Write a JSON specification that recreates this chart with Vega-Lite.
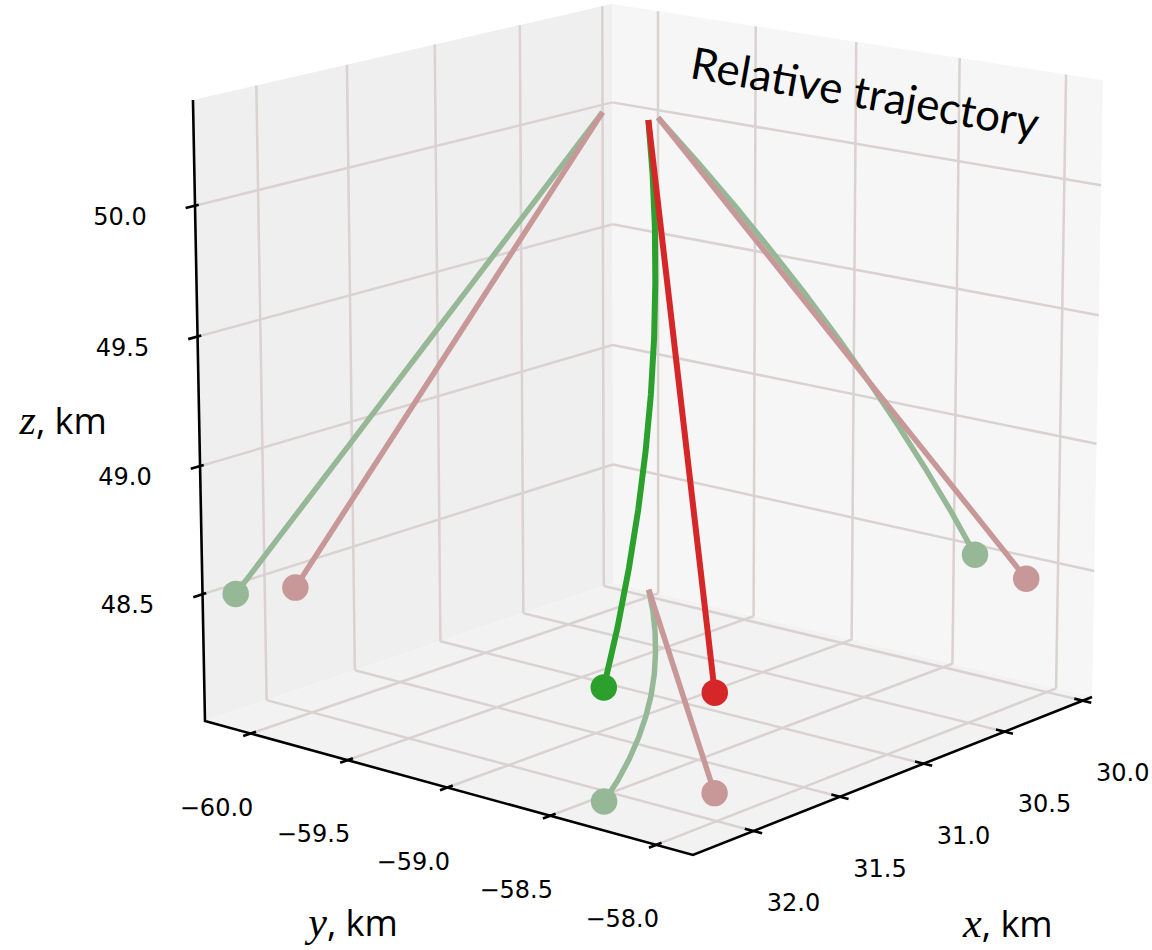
{
  "$schema": "https://vega.github.io/schema/vega-lite/v6.json",
  "width": 1152,
  "height": 950,
  "padding": 0,
  "autosize": {"type": "none"},
  "background": "white",
  "config": {"view": {"stroke": null}},
  "title": {"text": "Relative trajectory", "font": "Lato", "fontSize": 44, "fontWeight": "normal", "color": "#000000", "anchor": "start", "frame": "group", "orient": "top", "offset": 0, "dx": 710, "dy": 60, "angle": 10, "baseline": "alphabetic"},
  "data": {"values": [
    {"g":"pane","p":"L","k":0,"x":29.94,"y":-60.24,"z":48},
    {"g":"pane","p":"L","k":1,"x":32.34,"y":-60.24,"z":48},
    {"g":"pane","p":"L","k":2,"x":32.34,"y":-60.24,"z":50.4},
    {"g":"pane","p":"L","k":3,"x":29.94,"y":-60.24,"z":50.4},
    {"g":"pane","p":"R","k":0,"x":29.94,"y":-60.24,"z":48},
    {"g":"pane","p":"R","k":1,"x":29.94,"y":-57.83,"z":48},
    {"g":"pane","p":"R","k":2,"x":29.94,"y":-57.83,"z":50.4},
    {"g":"pane","p":"R","k":3,"x":29.94,"y":-60.24,"z":50.4},
    {"g":"pane","p":"F","k":0,"x":29.94,"y":-60.24,"z":48},
    {"g":"pane","p":"F","k":1,"x":32.34,"y":-60.24,"z":48},
    {"g":"pane","p":"F","k":2,"x":32.34,"y":-57.83,"z":48},
    {"g":"pane","p":"F","k":3,"x":29.94,"y":-57.83,"z":48},

    {"g":"grid","id":"Lx1","k":0,"x":30,"y":-60.24,"z":48},{"g":"grid","id":"Lx1","k":1,"x":30,"y":-60.24,"z":50.4},
    {"g":"grid","id":"Lx2","k":0,"x":30.5,"y":-60.24,"z":48},{"g":"grid","id":"Lx2","k":1,"x":30.5,"y":-60.24,"z":50.4},
    {"g":"grid","id":"Lx3","k":0,"x":31,"y":-60.24,"z":48},{"g":"grid","id":"Lx3","k":1,"x":31,"y":-60.24,"z":50.4},
    {"g":"grid","id":"Lx4","k":0,"x":31.5,"y":-60.24,"z":48},{"g":"grid","id":"Lx4","k":1,"x":31.5,"y":-60.24,"z":50.4},
    {"g":"grid","id":"Lx5","k":0,"x":32,"y":-60.24,"z":48},{"g":"grid","id":"Lx5","k":1,"x":32,"y":-60.24,"z":50.4},
    {"g":"grid","id":"Lz1","k":0,"x":29.94,"y":-60.24,"z":48.5},{"g":"grid","id":"Lz1","k":1,"x":32.34,"y":-60.24,"z":48.5},
    {"g":"grid","id":"Lz2","k":0,"x":29.94,"y":-60.24,"z":49},{"g":"grid","id":"Lz2","k":1,"x":32.34,"y":-60.24,"z":49},
    {"g":"grid","id":"Lz3","k":0,"x":29.94,"y":-60.24,"z":49.5},{"g":"grid","id":"Lz3","k":1,"x":32.34,"y":-60.24,"z":49.5},
    {"g":"grid","id":"Lz4","k":0,"x":29.94,"y":-60.24,"z":50},{"g":"grid","id":"Lz4","k":1,"x":32.34,"y":-60.24,"z":50},
    {"g":"grid","id":"Ry1","k":0,"x":29.94,"y":-60,"z":48},{"g":"grid","id":"Ry1","k":1,"x":29.94,"y":-60,"z":50.4},
    {"g":"grid","id":"Ry2","k":0,"x":29.94,"y":-59.5,"z":48},{"g":"grid","id":"Ry2","k":1,"x":29.94,"y":-59.5,"z":50.4},
    {"g":"grid","id":"Ry3","k":0,"x":29.94,"y":-59,"z":48},{"g":"grid","id":"Ry3","k":1,"x":29.94,"y":-59,"z":50.4},
    {"g":"grid","id":"Ry4","k":0,"x":29.94,"y":-58.5,"z":48},{"g":"grid","id":"Ry4","k":1,"x":29.94,"y":-58.5,"z":50.4},
    {"g":"grid","id":"Ry5","k":0,"x":29.94,"y":-58,"z":48},{"g":"grid","id":"Ry5","k":1,"x":29.94,"y":-58,"z":50.4},
    {"g":"grid","id":"Rz1","k":0,"x":29.94,"y":-60.24,"z":48.5},{"g":"grid","id":"Rz1","k":1,"x":29.94,"y":-57.83,"z":48.5},
    {"g":"grid","id":"Rz2","k":0,"x":29.94,"y":-60.24,"z":49},{"g":"grid","id":"Rz2","k":1,"x":29.94,"y":-57.83,"z":49},
    {"g":"grid","id":"Rz3","k":0,"x":29.94,"y":-60.24,"z":49.5},{"g":"grid","id":"Rz3","k":1,"x":29.94,"y":-57.83,"z":49.5},
    {"g":"grid","id":"Rz4","k":0,"x":29.94,"y":-60.24,"z":50},{"g":"grid","id":"Rz4","k":1,"x":29.94,"y":-57.83,"z":50},
    {"g":"grid","id":"Fx1","k":0,"x":30,"y":-60.24,"z":48},{"g":"grid","id":"Fx1","k":1,"x":30,"y":-57.83,"z":48},
    {"g":"grid","id":"Fx2","k":0,"x":30.5,"y":-60.24,"z":48},{"g":"grid","id":"Fx2","k":1,"x":30.5,"y":-57.83,"z":48},
    {"g":"grid","id":"Fx3","k":0,"x":31,"y":-60.24,"z":48},{"g":"grid","id":"Fx3","k":1,"x":31,"y":-57.83,"z":48},
    {"g":"grid","id":"Fx4","k":0,"x":31.5,"y":-60.24,"z":48},{"g":"grid","id":"Fx4","k":1,"x":31.5,"y":-57.83,"z":48},
    {"g":"grid","id":"Fx5","k":0,"x":32,"y":-60.24,"z":48},{"g":"grid","id":"Fx5","k":1,"x":32,"y":-57.83,"z":48},
    {"g":"grid","id":"Fy1","k":0,"x":29.94,"y":-60,"z":48},{"g":"grid","id":"Fy1","k":1,"x":32.34,"y":-60,"z":48},
    {"g":"grid","id":"Fy2","k":0,"x":29.94,"y":-59.5,"z":48},{"g":"grid","id":"Fy2","k":1,"x":32.34,"y":-59.5,"z":48},
    {"g":"grid","id":"Fy3","k":0,"x":29.94,"y":-59,"z":48},{"g":"grid","id":"Fy3","k":1,"x":32.34,"y":-59,"z":48},
    {"g":"grid","id":"Fy4","k":0,"x":29.94,"y":-58.5,"z":48},{"g":"grid","id":"Fy4","k":1,"x":32.34,"y":-58.5,"z":48},
    {"g":"grid","id":"Fy5","k":0,"x":29.94,"y":-58,"z":48},{"g":"grid","id":"Fy5","k":1,"x":32.34,"y":-58,"z":48},

    {"g":"axis","k":0,"x":32.34,"y":-60.24,"z":50.4},
    {"g":"axis","k":1,"x":32.34,"y":-60.24,"z":48},
    {"g":"axis","k":2,"x":32.34,"y":-57.83,"z":48},
    {"g":"axis","k":3,"x":29.94,"y":-57.83,"z":48},

    {"g":"tick","id":"tz1","k":0,"x":32.39,"y":-60.24,"z":48.5},{"g":"tick","id":"tz1","k":1,"x":32.32,"y":-60.24,"z":48.5},
    {"g":"tick","id":"tz2","k":0,"x":32.39,"y":-60.24,"z":49},{"g":"tick","id":"tz2","k":1,"x":32.32,"y":-60.24,"z":49},
    {"g":"tick","id":"tz3","k":0,"x":32.39,"y":-60.24,"z":49.5},{"g":"tick","id":"tz3","k":1,"x":32.32,"y":-60.24,"z":49.5},
    {"g":"tick","id":"tz4","k":0,"x":32.39,"y":-60.24,"z":50},{"g":"tick","id":"tz4","k":1,"x":32.32,"y":-60.24,"z":50},
    {"g":"tick","id":"ty1","k":0,"x":32.38,"y":-60,"z":48},{"g":"tick","id":"ty1","k":1,"x":32.31,"y":-60,"z":48},
    {"g":"tick","id":"ty2","k":0,"x":32.38,"y":-59.5,"z":48},{"g":"tick","id":"ty2","k":1,"x":32.31,"y":-59.5,"z":48},
    {"g":"tick","id":"ty3","k":0,"x":32.38,"y":-59,"z":48},{"g":"tick","id":"ty3","k":1,"x":32.31,"y":-59,"z":48},
    {"g":"tick","id":"ty4","k":0,"x":32.38,"y":-58.5,"z":48},{"g":"tick","id":"ty4","k":1,"x":32.31,"y":-58.5,"z":48},
    {"g":"tick","id":"ty5","k":0,"x":32.38,"y":-58,"z":48},{"g":"tick","id":"ty5","k":1,"x":32.31,"y":-58,"z":48},
    {"g":"tick","id":"tx1","k":0,"x":30,"y":-57.79,"z":48},{"g":"tick","id":"tx1","k":1,"x":30,"y":-57.87,"z":48},
    {"g":"tick","id":"tx2","k":0,"x":30.5,"y":-57.79,"z":48},{"g":"tick","id":"tx2","k":1,"x":30.5,"y":-57.87,"z":48},
    {"g":"tick","id":"tx3","k":0,"x":31,"y":-57.79,"z":48},{"g":"tick","id":"tx3","k":1,"x":31,"y":-57.87,"z":48},
    {"g":"tick","id":"tx4","k":0,"x":31.5,"y":-57.79,"z":48},{"g":"tick","id":"tx4","k":1,"x":31.5,"y":-57.87,"z":48},
    {"g":"tick","id":"tx5","k":0,"x":32,"y":-57.79,"z":48},{"g":"tick","id":"tx5","k":1,"x":32,"y":-57.87,"z":48},

    {"g":"xlab","lab":"30.0","x":30,"y":-57.83,"z":48},
    {"g":"xlab","lab":"30.5","x":30.5,"y":-57.83,"z":48},
    {"g":"xlab","lab":"31.0","x":31,"y":-57.83,"z":48},
    {"g":"xlab","lab":"31.5","x":31.5,"y":-57.83,"z":48},
    {"g":"xlab","lab":"32.0","x":32,"y":-57.83,"z":48},
    {"g":"ylab","lab":"−60.0","x":32.34,"y":-60,"z":48},
    {"g":"ylab","lab":"−59.5","x":32.34,"y":-59.5,"z":48},
    {"g":"ylab","lab":"−59.0","x":32.34,"y":-59,"z":48},
    {"g":"ylab","lab":"−58.5","x":32.34,"y":-58.5,"z":48},
    {"g":"ylab","lab":"−58.0","x":32.34,"y":-58,"z":48},
    {"g":"zlab","lab":"48.5","x":32.34,"y":-60.24,"z":48.5},
    {"g":"zlab","lab":"49.0","x":32.34,"y":-60.24,"z":49},
    {"g":"zlab","lab":"49.5","x":32.34,"y":-60.24,"z":49.5},
    {"g":"zlab","lab":"50.0","x":32.34,"y":-60.24,"z":50},

    {"g":"atitle","var":"z","unit":", km","x":33.19,"y":-60.24,"z":49.3},
    {"g":"atitle","var":"y","unit":", km","x":33.79,"y":-58.25,"z":48},
    {"g":"atitle","var":"x","unit":", km","x":32.36,"y":-56.54,"z":48},

    {"g":"traj","s":"green","i":0,"e":0,"x":30.000,"y":-60.000,"z":49.970},
    {"g":"traj","s":"green","i":1,"e":0,"x":30.216,"y":-59.797,"z":49.819},
    {"g":"traj","s":"green","i":2,"e":0,"x":30.432,"y":-59.604,"z":49.668},
    {"g":"traj","s":"green","i":3,"e":0,"x":30.648,"y":-59.421,"z":49.517},
    {"g":"traj","s":"green","i":4,"e":0,"x":30.864,"y":-59.246,"z":49.366},
    {"g":"traj","s":"green","i":5,"e":0,"x":31.080,"y":-59.081,"z":49.215},
    {"g":"traj","s":"green","i":6,"e":0,"x":31.296,"y":-58.926,"z":49.064},
    {"g":"traj","s":"green","i":7,"e":0,"x":31.512,"y":-58.780,"z":48.913},
    {"g":"traj","s":"green","i":8,"e":0,"x":31.728,"y":-58.643,"z":48.762},
    {"g":"traj","s":"green","i":9,"e":0,"x":31.944,"y":-58.515,"z":48.611},
    {"g":"traj","s":"green","i":10,"e":1,"x":32.160,"y":-58.397,"z":48.460},
    {"g":"traj","s":"red","i":0,"e":0,"x":30.000,"y":-60.000,"z":49.970},
    {"g":"traj","s":"red","i":1,"e":1,"x":31.830,"y":-58.150,"z":48.410}
  ]},
  "transform": [
    {"calculate": "(datum.x - 29.94) / 2.4", "as": "u"},
    {"calculate": "(datum.y + 60.24) / 2.41", "as": "v"},
    {"calculate": "(datum.z - 48) / 2.4", "as": "t"},
    {"calculate": "(613.3 - 423*datum.u + 408.4*datum.v - 15.7*datum.t) / (1 - 0.07164*datum.u - 0.06438*datum.v - 0.02353*datum.t)", "as": "sx"},
    {"calculate": "(582.8 + 86.55*datum.u + 69.33*datum.v - 578.9*datum.t) / (1 - 0.07164*datum.u - 0.06438*datum.v - 0.02353*datum.t)", "as": "sy"},
    {"calculate": "(613.3 - 423*datum.u - 15.7*datum.t) / (1 - 0.07164*datum.u - 0.02353*datum.t)", "as": "sxL"},
    {"calculate": "(582.8 + 86.55*datum.u - 578.9*datum.t) / (1 - 0.07164*datum.u - 0.02353*datum.t)", "as": "syL"},
    {"calculate": "(613.3 + 408.4*datum.v - 15.7*datum.t) / (1 - 0.06438*datum.v - 0.02353*datum.t)", "as": "sxR"},
    {"calculate": "(582.8 + 69.33*datum.v - 578.9*datum.t) / (1 - 0.06438*datum.v - 0.02353*datum.t)", "as": "syR"},
    {"calculate": "(613.3 - 423*datum.u + 408.4*datum.v - 0.196) / (0.999706 - 0.07164*datum.u - 0.06438*datum.v)", "as": "sxF"},
    {"calculate": "(582.8 + 86.55*datum.u + 69.33*datum.v - 7.236) / (0.999706 - 0.07164*datum.u - 0.06438*datum.v)", "as": "syF"}
  ],
  "resolve": {"scale": {"color": "independent", "fill": "independent"}},
  "layer": [
    {
      "transform": [{"filter": "datum.g === 'pane'"}],
      "mark": {"type": "line", "strokeWidth": 0, "strokeOpacity": 0},
      "encoding": {
        "x": {"field": "sx", "type": "quantitative", "scale": {"domain": [0, 1152], "range": [0, 1152], "nice": false, "zero": false}, "axis": null},
        "y": {"field": "sy", "type": "quantitative", "scale": {"domain": [0, 950], "range": [0, 950], "nice": false, "zero": false}, "axis": null},
        "fill": {"field": "p", "type": "nominal", "scale": {"domain": ["L", "R", "F"], "range": ["#efefef", "#f6f6f6", "#f2f2f2"]}, "legend": null},
        "detail": {"field": "p"},
        "order": {"field": "k", "type": "quantitative"}
      }
    },
    {
      "transform": [{"filter": "datum.g === 'grid'"}],
      "mark": {"type": "line", "color": "#dad1d1", "strokeWidth": 2.5},
      "encoding": {
        "x": {"field": "sx", "type": "quantitative", "axis": null},
        "y": {"field": "sy", "type": "quantitative", "axis": null},
        "detail": {"field": "id"},
        "order": {"field": "k", "type": "quantitative"}
      }
    },
    {
      "transform": [{"filter": "datum.g === 'axis'"}],
      "mark": {"type": "line", "color": "#000000", "strokeWidth": 2.6, "strokeJoin": "miter"},
      "encoding": {
        "x": {"field": "sx", "type": "quantitative", "axis": null},
        "y": {"field": "sy", "type": "quantitative", "axis": null},
        "order": {"field": "k", "type": "quantitative"}
      }
    },
    {
      "transform": [{"filter": "datum.g === 'tick'"}],
      "mark": {"type": "line", "color": "#000000", "strokeWidth": 2.6},
      "encoding": {
        "x": {"field": "sx", "type": "quantitative", "axis": null},
        "y": {"field": "sy", "type": "quantitative", "axis": null},
        "detail": {"field": "id"},
        "order": {"field": "k", "type": "quantitative"}
      }
    },
    {
      "transform": [{"filter": "datum.g === 'traj'"}],
      "mark": {"type": "line", "strokeWidth": 5.5, "strokeCap": "butt"},
      "encoding": {
        "x": {"field": "sxF", "type": "quantitative", "axis": null},
        "y": {"field": "syF", "type": "quantitative", "axis": null},
        "color": {"field": "s", "type": "nominal", "scale": {"domain": ["green", "red"], "range": ["#97b897", "#c89797"]}, "legend": null},
        "order": {"field": "i", "type": "quantitative"}
      }
    },
    {
      "transform": [{"filter": "datum.g === 'traj'"}],
      "mark": {"type": "line", "strokeWidth": 5.5, "strokeCap": "butt"},
      "encoding": {
        "x": {"field": "sxL", "type": "quantitative", "axis": null},
        "y": {"field": "syL", "type": "quantitative", "axis": null},
        "color": {"field": "s", "type": "nominal", "scale": {"domain": ["green", "red"], "range": ["#97b897", "#c89797"]}, "legend": null},
        "order": {"field": "i", "type": "quantitative"}
      }
    },
    {
      "transform": [{"filter": "datum.g === 'traj'"}],
      "mark": {"type": "line", "strokeWidth": 5.5, "strokeCap": "butt"},
      "encoding": {
        "x": {"field": "sxR", "type": "quantitative", "axis": null},
        "y": {"field": "syR", "type": "quantitative", "axis": null},
        "color": {"field": "s", "type": "nominal", "scale": {"domain": ["green", "red"], "range": ["#97b897", "#c89797"]}, "legend": null},
        "order": {"field": "i", "type": "quantitative"}
      }
    },
    {
      "transform": [{"filter": "datum.g === 'traj' && datum.e === 1"}],
      "mark": {"type": "circle", "size": 700, "opacity": 1},
      "encoding": {
        "x": {"field": "sxF", "type": "quantitative", "axis": null},
        "y": {"field": "syF", "type": "quantitative", "axis": null},
        "color": {"field": "s", "type": "nominal", "scale": {"domain": ["green", "red"], "range": ["#97b897", "#c89797"]}, "legend": null}
      }
    },
    {
      "transform": [{"filter": "datum.g === 'traj' && datum.e === 1"}],
      "mark": {"type": "circle", "size": 700, "opacity": 1},
      "encoding": {
        "x": {"field": "sxL", "type": "quantitative", "axis": null},
        "y": {"field": "syL", "type": "quantitative", "axis": null},
        "color": {"field": "s", "type": "nominal", "scale": {"domain": ["green", "red"], "range": ["#97b897", "#c89797"]}, "legend": null}
      }
    },
    {
      "transform": [{"filter": "datum.g === 'traj' && datum.e === 1"}],
      "mark": {"type": "circle", "size": 700, "opacity": 1},
      "encoding": {
        "x": {"field": "sxR", "type": "quantitative", "axis": null},
        "y": {"field": "syR", "type": "quantitative", "axis": null},
        "color": {"field": "s", "type": "nominal", "scale": {"domain": ["green", "red"], "range": ["#97b897", "#c89797"]}, "legend": null}
      }
    },
    {
      "transform": [{"filter": "datum.g === 'traj'"}],
      "mark": {"type": "line", "strokeWidth": 6, "strokeCap": "butt"},
      "encoding": {
        "x": {"field": "sx", "type": "quantitative", "axis": null},
        "y": {"field": "sy", "type": "quantitative", "axis": null},
        "color": {"field": "s", "type": "nominal", "scale": {"domain": ["green", "red"], "range": ["#2ca02c", "#d62728"]}, "legend": null},
        "order": {"field": "i", "type": "quantitative"}
      }
    },
    {
      "transform": [{"filter": "datum.g === 'traj' && datum.e === 1"}],
      "mark": {"type": "circle", "size": 700, "opacity": 1},
      "encoding": {
        "x": {"field": "sx", "type": "quantitative", "axis": null},
        "y": {"field": "sy", "type": "quantitative", "axis": null},
        "color": {"field": "s", "type": "nominal", "scale": {"domain": ["green", "red"], "range": ["#2ca02c", "#d62728"]}, "legend": null}
      }
    },
    {
      "transform": [{"filter": "datum.g === 'xlab'"}],
      "mark": {"type": "text", "font": "DejaVu Sans", "fontSize": 24, "align": "center", "baseline": "middle", "dx": 40, "dy": 73, "color": "#000000"},
      "encoding": {
        "x": {"field": "sx", "type": "quantitative", "axis": null},
        "y": {"field": "sy", "type": "quantitative", "axis": null},
        "text": {"field": "lab"}
      }
    },
    {
      "transform": [{"filter": "datum.g === 'ylab'"}],
      "mark": {"type": "text", "font": "DejaVu Sans", "fontSize": 24, "align": "center", "baseline": "middle", "dx": -34, "dy": 75, "color": "#000000"},
      "encoding": {
        "x": {"field": "sx", "type": "quantitative", "axis": null},
        "y": {"field": "sy", "type": "quantitative", "axis": null},
        "text": {"field": "lab"}
      }
    },
    {
      "transform": [{"filter": "datum.g === 'zlab'"}],
      "mark": {"type": "text", "font": "DejaVu Sans", "fontSize": 24, "align": "center", "baseline": "middle", "dx": -75, "dy": 12, "color": "#000000"},
      "encoding": {
        "x": {"field": "sx", "type": "quantitative", "axis": null},
        "y": {"field": "sy", "type": "quantitative", "axis": null},
        "text": {"field": "lab"}
      }
    },
    {
      "transform": [{"filter": "datum.g === 'atitle'"}],
      "mark": {"type": "text", "font": "Liberation Serif", "fontStyle": "italic", "fontSize": 42, "align": "right", "baseline": "alphabetic", "color": "#000000"},
      "encoding": {
        "x": {"field": "sx", "type": "quantitative", "axis": null},
        "y": {"field": "sy", "type": "quantitative", "axis": null},
        "text": {"field": "var"}
      }
    },
    {
      "transform": [{"filter": "datum.g === 'atitle'"}],
      "mark": {"type": "text", "font": "Open Sans", "fontSize": 36, "align": "left", "baseline": "alphabetic", "color": "#000000"},
      "encoding": {
        "x": {"field": "sx", "type": "quantitative", "axis": null},
        "y": {"field": "sy", "type": "quantitative", "axis": null},
        "text": {"field": "unit"}
      }
    }
  ]
}
